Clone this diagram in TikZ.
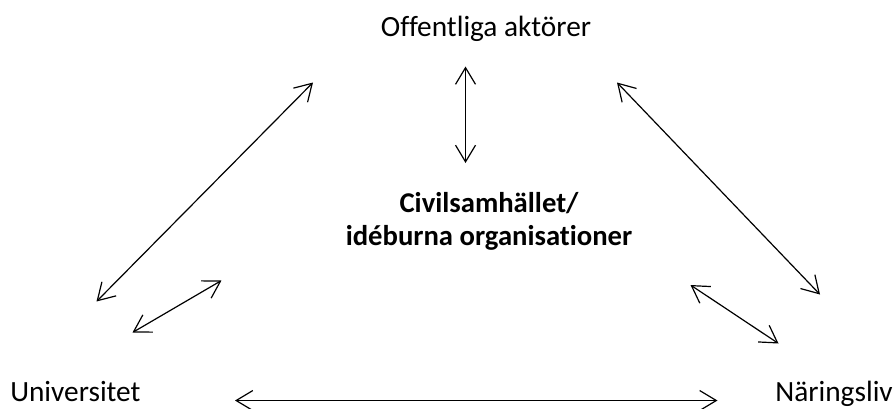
\documentclass[tikz,border=0pt]{standalone}
\usepackage{fontspec}
\setmainfont{Carlito}[Ligatures={NoCommon}]
\usetikzlibrary{arrows.meta}
\begin{document}
\begin{tikzpicture}[x=0.75pt,y=-0.75pt,
  lbl/.style={font=\fontsize{22}{24.75}\selectfont, inner sep=0pt, anchor=base},
  civ/.style={font=\fontsize{21.5}{24.75}\selectfont\bfseries, inner sep=0pt, align=center},
  biarrow/.style={{Straight Barb[length=12.5pt,width=15pt]}-{Straight Barb[length=12.5pt,width=15pt]}, line width=0.9pt}]
\useasboundingbox (0,0) rectangle (896,408);
% labels
\node[lbl] (off) at (486,36) {Offentliga aktörer};
\node[lbl, anchor=base west] (uni) at (10,401) {Universitet};
\node[lbl, anchor=base east] (nar) at (893,401) {Näringsliv};
\node[civ] (civ) at (489,221) {Civilsamhället/\\idéburna organisationer};
% arrow end points
\coordinate (vT) at (465.5,66.5);
\coordinate (vB) at (465.5,163);
\coordinate (lT) at (313,82.5);
\coordinate (lB) at (96.5,301.5);
\coordinate (sT) at (221.5,280.5);
\coordinate (sB) at (132.5,332.5);
\coordinate (rT) at (617,82.5);
\coordinate (rB) at (820,294.5);
\coordinate (qT) at (690.5,285);
\coordinate (qB) at (778.5,343.5);
\coordinate (hL) at (235,400.5);
\coordinate (hR) at (717.5,400.5);
% arrows
\draw[biarrow] (vT) -- (vB);
\draw[biarrow] (lT) -- (lB);
\draw[biarrow] (sT) -- (sB);
\draw[biarrow] (rT) -- (rB);
\draw[biarrow] (qT) -- (qB);
\draw[biarrow] (hL) -- (hR);
\end{tikzpicture}
\end{document}
